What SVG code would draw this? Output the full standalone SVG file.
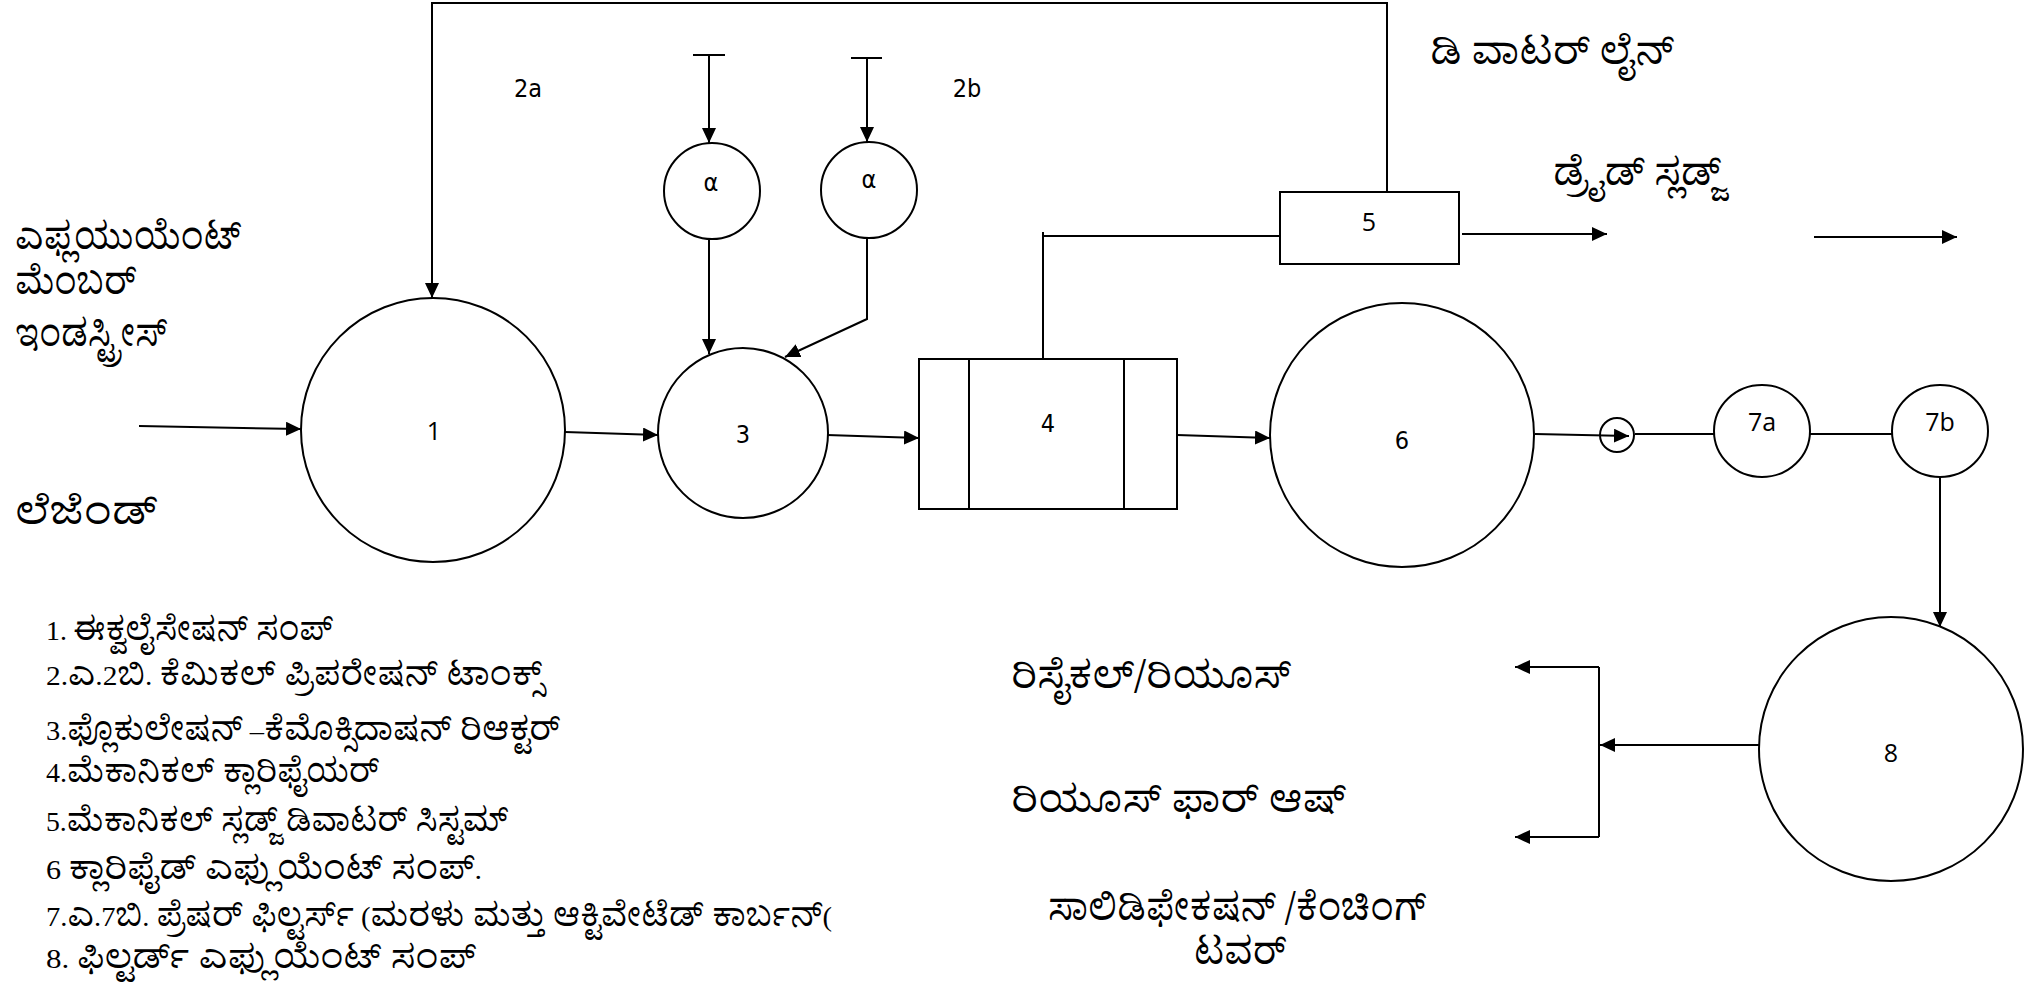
<svg xmlns="http://www.w3.org/2000/svg" width="2024" height="982" viewBox="0 0 2024 982">
  <style>
    .ln { fill: none; stroke: #000; stroke-width: 2; }
    .shp { fill: #fff; stroke: #000; stroke-width: 2; }
    .num { font-family: "Open Sans", "Noto Sans", "DejaVu Sans", sans-serif; font-size: 25px; fill: #000; text-anchor: middle; }
    .cond { font-family: "Liberation Sans Narrow", "DejaVu Sans", sans-serif; font-stretch: condensed; font-size: 25px; fill: #000; text-anchor: middle; }
    .kn { font-family: "Noto Serif Kannada", "Noto Sans Kannada", "Tunga", "Lohit Kannada", "Kedage", "Liberation Serif", serif; font-size: 38px; fill: #000; }
    .lg { font-family: "Liberation Serif", "Noto Serif Kannada", "Noto Sans Kannada", "Tunga", "Lohit Kannada", serif; font-size: 27px; fill: #000; }
    .lg .k { font-size: 33px; }
  </style>
  <defs>
    <marker id="ah" markerWidth="16" markerHeight="14" refX="15" refY="7" orient="auto" markerUnits="userSpaceOnUse">
      <path d="M0,0 L15,7 L0,14 z" fill="#000"/>
    </marker>
  </defs>
  <rect width="2024" height="982" fill="#fff"/>

  <!-- connectors -->
  <g id="connectors" class="ln">
    <path d="M139,426 L301,429" marker-end="url(#ah)"/>
    <path d="M565,432 L658,435" marker-end="url(#ah)"/>
    <path d="M827,435 L919,438" marker-end="url(#ah)"/>
    <path d="M1177,435 L1270,438" marker-end="url(#ah)"/>
    <path d="M1535,434 L1629,436" marker-end="url(#ah)"/>
    <path d="M1635,434 L1714,434"/>
    <path d="M1810,434 L1892,434"/>
    <path d="M1940,477 L1940,627" marker-end="url(#ah)"/>
    <path d="M1759,745 L1600,745" marker-end="url(#ah)"/>
    <path d="M1599,667 L1599,837"/>
    <path d="M1599,667 L1515,667" marker-end="url(#ah)"/>
    <path d="M1599,837 L1515,837" marker-end="url(#ah)"/>
    <!-- chemical dosing feeds -->
    <path d="M693,55 L725,55"/>
    <path d="M709,55 L709,143" marker-end="url(#ah)"/>
    <path d="M851,58 L882,58"/>
    <path d="M867,58 L867,142" marker-end="url(#ah)"/>
    <path d="M709,239 L709,354" marker-end="url(#ah)"/>
    <path d="M867,238 L867,319 L785,357" marker-end="url(#ah)"/>
    <!-- sludge from clarifier to dewatering -->
    <path d="M1280,236 L1043,236"/>
    <path d="M1043,232 L1043,359"/>
    <!-- filtrate return to equalisation sump -->
    <path d="M1387,192 L1387,3 L432,3 L432,298" marker-end="url(#ah)"/>
    <path d="M1462,234 L1607,234" marker-end="url(#ah)"/>
    <path d="M1814,237 L1957,237" marker-end="url(#ah)"/>
  </g>

  <g id="n1"><circle class="shp" cx="433" cy="430" r="132"/><text class="num" x="434" y="440">1</text></g>
  <g id="n2a"><circle class="shp" cx="712" cy="191" r="48"/><text class="cond" x="711" y="191">α</text></g>
  <g id="n2b"><circle class="shp" cx="869" cy="190" r="48"/><text class="cond" x="869" y="188">α</text></g>
  <g id="lbl2"><text class="cond" x="528" y="97">2a</text><text class="cond" x="967" y="97">2b</text></g>
  <g id="n3"><circle class="shp" cx="743" cy="433" r="85"/><text class="cond" x="743" y="443">3</text></g>
  <g id="n4">
    <rect class="shp" x="919" y="359" width="258" height="150"/>
    <path class="ln" d="M969,359 L969,509 M1124,359 L1124,509"/>
    <text class="cond" x="1048" y="432">4</text>
  </g>
  <g id="n5"><rect class="shp" x="1280" y="192" width="179" height="72"/><text class="num" x="1369" y="231">5</text></g>
  <g id="n6"><circle class="shp" cx="1402" cy="435" r="132"/><text class="cond" x="1402" y="449">6</text></g>
  <g id="pump"><circle class="ln" cx="1617" cy="435" r="17"/></g>
  <g id="n7a"><ellipse class="shp" cx="1762" cy="431" rx="48" ry="46"/><text class="num" x="1762" y="431">7a</text></g>
  <g id="n7b"><ellipse class="shp" cx="1940" cy="431" rx="48" ry="46"/><text class="num" x="1940" y="431">7b</text></g>
  <g id="n8"><circle class="shp" cx="1891" cy="749" r="132"/><text class="num" x="1891" y="762">8</text></g>

  <g id="source-label">
    <text class="kn" x="15" y="249" textLength="226" lengthAdjust="spacingAndGlyphs">ಎಫ್ಲಯುಯೆಂಟ್</text>
    <text class="kn" x="15" y="294" textLength="121" lengthAdjust="spacingAndGlyphs">ಮೆಂಬರ್</text>
    <text class="kn" x="15" y="346" textLength="152" lengthAdjust="spacingAndGlyphs">ಇಂಡಸ್ಟ್ರೀಸ್</text>
  </g>

  <g id="outlet-labels">
    <text class="kn" x="1430" y="64" font-size="36" textLength="244" lengthAdjust="spacingAndGlyphs">ಡಿ ವಾಟರ್ ಲೈನ್</text>
    <text class="kn" x="1553" y="185" font-size="36" textLength="168" lengthAdjust="spacingAndGlyphs">ಡ್ರೈಡ್ ಸ್ಲಡ್ಜ್</text>
    <text class="kn" x="1011" y="688" textLength="280" lengthAdjust="spacingAndGlyphs">ರಿಸೈಕಲ್/ರಿಯೂಸ್</text>
    <text class="kn" x="1011" y="812" textLength="335" lengthAdjust="spacingAndGlyphs">ರಿಯೂಸ್   ಫಾರ್ ಆಷ್</text>
    <text class="kn" x="1048" y="920" textLength="378" lengthAdjust="spacingAndGlyphs">ಸಾಲಿಡಿಫೇಕಷನ್  /ಕೆಂಚಿಂಗ್</text>
    <text class="kn" x="1194" y="964" font-size="33" textLength="92" lengthAdjust="spacingAndGlyphs">ಟವರ್</text>
  </g>

  <g id="legend">
    <text class="kn" x="15" y="524" font-size="56" textLength="142" lengthAdjust="spacingAndGlyphs">ಲೆಜೆಂಡ್</text>
    <text class="lg" x="46" y="640" textLength="287" lengthAdjust="spacingAndGlyphs">1.  <tspan class="k">ಈಕ್ವಲೈಸೇಷನ್ ಸಂಪ್</tspan></text>
    <text class="lg" x="46" y="685" textLength="496" lengthAdjust="spacingAndGlyphs">2.<tspan class="k">ಎ</tspan>.2<tspan class="k">ಬಿ</tspan>. <tspan class="k">ಕೆಮಿಕಲ್  ಪ್ರಿಪರೇಷನ್ ಟಾಂಕ್ಸ್</tspan></text>
    <text class="lg" x="46" y="740" textLength="514" lengthAdjust="spacingAndGlyphs">3.<tspan class="k">ಫ್ಲೊಕುಲೇಷನ್</tspan> –<tspan class="k">ಕೆಮೊಕ್ಸಿದಾಷನ್ ರಿಆಕ್ಟರ್</tspan></text>
    <text class="lg" x="46" y="782" textLength="333" lengthAdjust="spacingAndGlyphs">4.<tspan class="k">ಮೆಕಾನಿಕಲ್ ಕ್ಲಾರಿಫೈಯರ್</tspan></text>
    <text class="lg" x="46" y="831" textLength="462" lengthAdjust="spacingAndGlyphs">5.<tspan class="k">ಮೆಕಾನಿಕಲ್ ಸ್ಲಡ್ಜ್ ಡಿವಾಟರ್ ಸಿಸ್ಟಮ್</tspan></text>
    <text class="lg" x="46" y="879" textLength="436" lengthAdjust="spacingAndGlyphs">6   <tspan class="k">ಕ್ಲಾರಿಫೈಡ್ ಎಫ್ಲುಯೆಂಟ್ ಸಂಪ್</tspan>.</text>
    <text class="lg" x="46" y="926" textLength="786" lengthAdjust="spacingAndGlyphs">7.<tspan class="k">ಎ</tspan>.7<tspan class="k">ಬಿ</tspan>. <tspan class="k">ಪ್ರೆಷರ್ ಫಿಲ್ಟರ್ಸ್</tspan> (<tspan class="k">ಮರಳು ಮತ್ತು ಆಕ್ಟಿವೇಟೆಡ್ ಕಾರ್ಬನ್</tspan>(</text>
    <text class="lg" x="46" y="968" textLength="430" lengthAdjust="spacingAndGlyphs">8. <tspan class="k">ಫಿಲ್ಟರ್ಡ್ ಎಫ್ಲುಯೆಂಟ್  ಸಂಪ್</tspan></text>
  </g>
</svg>
